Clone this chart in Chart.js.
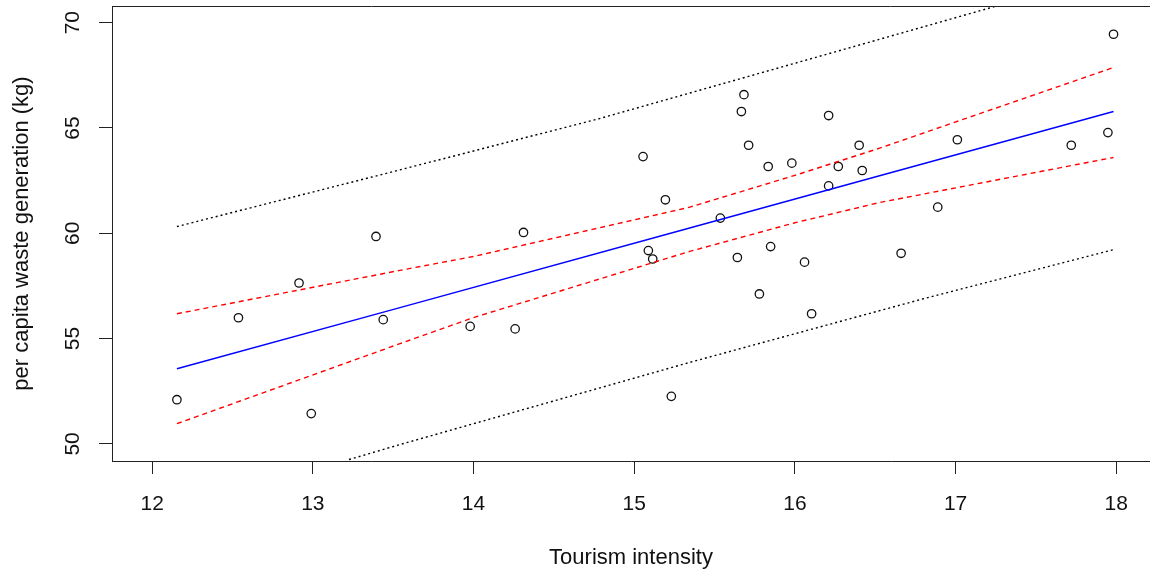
<!DOCTYPE html>
<html>
<head>
<meta charset="utf-8">
<script src="https://cdn.jsdelivr.net/npm/chart.js@4/dist/chart.umd.min.js"></script>
<style>
  html, body { margin: 0; padding: 0; background: #fff; }
  canvas { display: block; }
</style>
</head>
<body>
<canvas id="chartCanvas" width="1150" height="573"></canvas>
<script>
// observed points
const tourism = [12.154, 12.537, 12.914, 12.990, 13.393, 13.438, 13.979, 14.259, 14.311,
  15.055, 15.088, 15.115, 15.194, 15.231, 15.536, 15.642, 15.667, 15.683, 15.712,
  15.779, 15.834, 15.849, 15.981, 16.060, 16.104, 16.210, 16.210, 16.270, 16.400,
  16.419, 16.661, 16.889, 17.011, 17.720, 17.948, 17.983];
const waste = [52.10, 55.99, 57.64, 51.44, 59.85, 55.90, 55.58, 55.46, 60.04,
  63.64, 59.18, 58.78, 61.59, 52.26, 60.72, 58.85, 65.78, 66.58, 64.18,
  57.12, 63.17, 59.37, 63.33, 58.63, 56.18, 65.59, 62.25, 63.17, 64.18,
  62.98, 59.05, 61.24, 64.44, 64.18, 64.78, 69.45];

// fitted line
const fitX = [12.154, 13.542, 15.345, 16.527, 17.983];
const fitY = [53.57, 56.47, 60.25, 62.73, 65.78];

// confidence band
const confX = [12.154, 13.542, 14.0, 15.345, 16.0, 16.527, 17.983];
const confUpper = [56.18, 58.24, 58.90, 61.24, 62.75, 64.04, 67.87];
const confLower = [50.96, 54.76, 56.00, 59.14, 60.50, 61.46, 63.60];

// prediction band
const predUpperX = [12.154, 13.542, 14.786, 16.527, 17.242];
const predUpper = [60.32, 63.01, 65.45, 69.21, 70.76];
const predLowerX = [13.225, 13.542, 15.345, 16.794, 17.983];
const predLower = [49.26, 49.97, 53.87, 56.88, 59.22];

const xTicks = [12, 13, 14, 15, 16, 17, 18];
const yTicks = [50, 55, 60, 65, 70];

const pairs = (xs, ys) => xs.map((x, i) => ({ x: x, y: ys[i] }));

const lineSet = (data, color, dash) => ({
  data: data,
  showLine: true,
  borderColor: color,
  borderWidth: 1.4,
  borderDash: dash,
  pointRadius: 0,
  fill: false
});

// R-style box: the scales draw left and bottom, this adds the top
const boxPlugin = {
  id: 'box',
  afterDraw(chart) {
    const { ctx, chartArea } = chart;
    ctx.save();
    ctx.strokeStyle = '#222';
    ctx.lineWidth = 1;
    ctx.beginPath();
    ctx.moveTo(chartArea.left, chartArea.top + 0.5);
    ctx.lineTo(chartArea.right, chartArea.top + 0.5);
    ctx.stroke();
    ctx.restore();
  }
};

const font = 'Liberation Sans, Arial, sans-serif';

new Chart(document.getElementById('chartCanvas').getContext('2d'), {
  type: 'scatter',
  data: {
    datasets: [
      lineSet(pairs(fitX, fitY), '#0000ff', []),
      lineSet(pairs(confX, confUpper), '#ff0000', [5, 4]),
      lineSet(pairs(confX, confLower), '#ff0000', [5, 4]),
      lineSet(pairs(predUpperX, predUpper), '#000000', [2, 3]),
      lineSet(pairs(predLowerX, predLower), '#000000', [2, 3]),
      {
        data: pairs(tourism, waste),
        pointStyle: 'circle',
        pointRadius: 4.2,
        pointBorderWidth: 1.3,
        borderColor: '#111',
        backgroundColor: 'rgba(0,0,0,0)'
      }
    ]
  },
  options: {
    responsive: false,
    animation: false,
    devicePixelRatio: 1,
    layout: { autoPadding: false, padding: { top: 6, right: 0, left: 0, bottom: 0 } },
    plugins: { legend: { display: false }, tooltip: { enabled: false } },
    scales: {
      x: {
        type: 'linear',
        min: 11.75,
        max: 18.21,
        afterBuildTicks: (s) => { s.ticks = xTicks.map(v => ({ value: v })); },
        afterFit: (s) => { s.height = 112; s.paddingLeft = 0; s.paddingRight = 0; },
        grid: { drawOnChartArea: false, drawTicks: true, tickLength: 13, color: '#222' },
        border: { display: true, color: '#222', width: 1 },
        ticks: { color: '#111', font: { family: font, size: 21 }, padding: 18, maxRotation: 0 },
        title: {
          display: true, text: 'Tourism intensity', color: '#111',
          font: { family: font, size: 22 }, padding: { top: 0, bottom: 2 }
        }
      },
      y: {
        type: 'linear',
        min: 49.19,
        max: 70.79,
        afterBuildTicks: (s) => { s.ticks = yTicks.map(v => ({ value: v })); },
        afterFit: (s) => { s.width = 112; s.paddingTop = 0; s.paddingBottom = 0; },
        grid: { drawOnChartArea: false, drawTicks: true, tickLength: 13, color: '#222' },
        border: { display: true, color: '#222', width: 1 },
        ticks: {
          color: '#111', font: { family: font, size: 21 }, padding: 14,
          minRotation: 90, maxRotation: 90, crossAlign: 'center'
        },
        title: {
          display: true, text: 'per capita waste generation (kg)', color: '#111',
          font: { family: font, size: 22 }, padding: { top: 9, bottom: 0 }
        }
      }
    }
  },
  plugins: [boxPlugin]
});
</script>
</body>
</html>
